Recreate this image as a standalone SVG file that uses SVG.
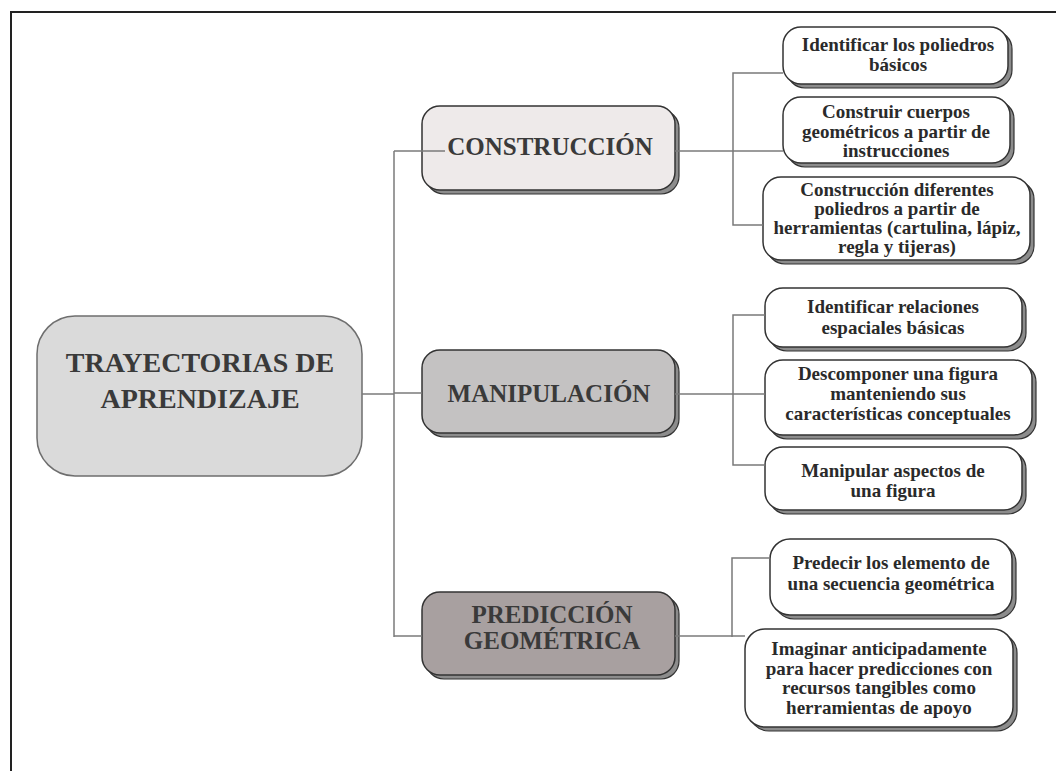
<svg xmlns="http://www.w3.org/2000/svg" width="1056" height="771" viewBox="0 0 1056 771">
<style>
.frame{fill:none;stroke:#222;stroke-width:2}
.ln{fill:none;stroke:#7a7a7a;stroke-width:1.5}
.sh{fill:#8c8c8c;stroke:#333;stroke-width:1.2}
.box{stroke:#333;stroke-width:1.5}
.main{fill:#dadada;stroke:#6e6e6e;stroke-width:1.5}
.t{font-family:"Liberation Serif","Times New Roman",serif;font-weight:bold;text-anchor:middle}
.tm{font-size:28px;fill:#3a3a3a}
.tc{font-size:25px;fill:#3a3a3a}
.tk{font-size:19px;fill:#2a2a2a}
</style>
<rect width="1056" height="771" fill="#fff"/>
<path class="frame" d="M11,771 V12 H1056"/>

<g id="n-main">
<rect class="main" x="37" y="316" width="325" height="160" rx="38"/>
<text class="t tm" x="200" y="372">TRAYECTORIAS DE</text>
<text class="t tm" x="200" y="408">APRENDIZAJE</text>
</g>

<g id="n-construccion">
<rect class="sh" x="426" y="110" width="253" height="84" rx="18"/>
<rect class="box" x="422" y="106" width="253" height="84" rx="18" fill="#eeeaea"/>
<text class="t tc" x="550" y="155">CONSTRUCCIÓN</text>
</g>

<g id="n-manipulacion">
<rect class="sh" x="426" y="354" width="253" height="83" rx="18"/>
<rect class="box" x="422" y="350" width="253" height="83" rx="18" fill="#c4c2c2"/>
<text class="t tc" x="549" y="402">MANIPULACIÓN</text>
</g>

<g id="n-prediccion">
<rect class="sh" x="426" y="596" width="253" height="83" rx="18"/>
<rect class="box" x="422" y="592" width="253" height="83" rx="18" fill="#a8a0a0"/>
<text class="t tc" x="552" y="623">PREDICCIÓN</text>
<text class="t tc" x="552" y="649">GEOMÉTRICA</text>
</g>

<g id="n-c1">
<rect class="sh" x="787" y="31" width="225" height="57" rx="18"/>
<rect class="box" x="783" y="27" width="225" height="57" rx="18" fill="#fff"/>
<text class="t tk" x="898" y="51">Identificar los poliedros</text>
<text class="t tk" x="898" y="71">básicos</text>
</g>

<g id="n-c2">
<rect class="sh" x="787" y="101" width="227" height="66" rx="18"/>
<rect class="box" x="783" y="97" width="227" height="66" rx="18" fill="#fff"/>
<text class="t tk" x="896" y="118">Construir cuerpos</text>
<text class="t tk" x="896" y="137.5">geométricos a partir de</text>
<text class="t tk" x="896" y="157">instrucciones</text>
</g>

<g id="n-c3">
<rect class="sh" x="767" y="181" width="267" height="83" rx="18"/>
<rect class="box" x="763" y="177" width="267" height="83" rx="18" fill="#fff"/>
<text class="t tk" x="897" y="196">Construcción diferentes</text>
<text class="t tk" x="897" y="215">poliedros a partir de</text>
<text class="t tk" x="897" y="234">herramientas (cartulina, lápiz,</text>
<text class="t tk" x="897" y="253">regla y tijeras)</text>
</g>

<g id="n-m1">
<rect class="sh" x="769" y="292" width="257" height="59" rx="18"/>
<rect class="box" x="765" y="288" width="257" height="59" rx="18" fill="#fff"/>
<text class="t tk" x="893" y="313">Identificar relaciones</text>
<text class="t tk" x="893" y="334">espaciales básicas</text>
</g>

<g id="n-m2">
<rect class="sh" x="769" y="364" width="267" height="75" rx="18"/>
<rect class="box" x="765" y="360" width="267" height="75" rx="18" fill="#fff"/>
<text class="t tk" x="898" y="380">Descomponer una figura</text>
<text class="t tk" x="898" y="400">manteniendo sus</text>
<text class="t tk" x="898" y="420">características conceptuales</text>
</g>

<g id="n-m3">
<rect class="sh" x="769" y="451" width="257" height="63" rx="18"/>
<rect class="box" x="765" y="447" width="257" height="63" rx="18" fill="#fff"/>
<text class="t tk" x="893" y="477">Manipular aspectos de</text>
<text class="t tk" x="893" y="497">una figura</text>
</g>

<g id="n-p1">
<rect class="sh" x="774" y="543" width="242" height="76" rx="20"/>
<rect class="box" x="770" y="539" width="242" height="76" rx="20" fill="#fff"/>
<text class="t tk" x="891" y="569">Predecir los elemento de</text>
<text class="t tk" x="891" y="590">una secuencia geométrica</text>
</g>

<g id="n-p2">
<rect class="sh" x="749" y="633" width="268" height="98" rx="20"/>
<rect class="box" x="745" y="629" width="268" height="98" rx="20" fill="#fff"/>
<text class="t tk" x="879" y="655">Imaginar anticipadamente</text>
<text class="t tk" x="879" y="674.5">para hacer predicciones con</text>
<text class="t tk" x="879" y="694">recursos tangibles como</text>
<text class="t tk" x="879" y="713.5">herramientas de apoyo</text>
</g>

<g id="connectors">
<path class="ln" d="M362,394 H394"/>
<path class="ln" d="M394,151 V637"/>
<path class="ln" d="M394,151 H445"/>
<path class="ln" d="M394,393 H422"/>
<path class="ln" d="M394,636 H422"/>
<path class="ln" d="M675,151 H783"/>
<path class="ln" d="M783,73 H733 V225 H763"/>
<path class="ln" d="M675,394 H765"/>
<path class="ln" d="M765,315 H733 V465 H765"/>
<path class="ln" d="M675,636 H745"/>
<path class="ln" d="M770,558 H732 V637"/>
</g>
</svg>
